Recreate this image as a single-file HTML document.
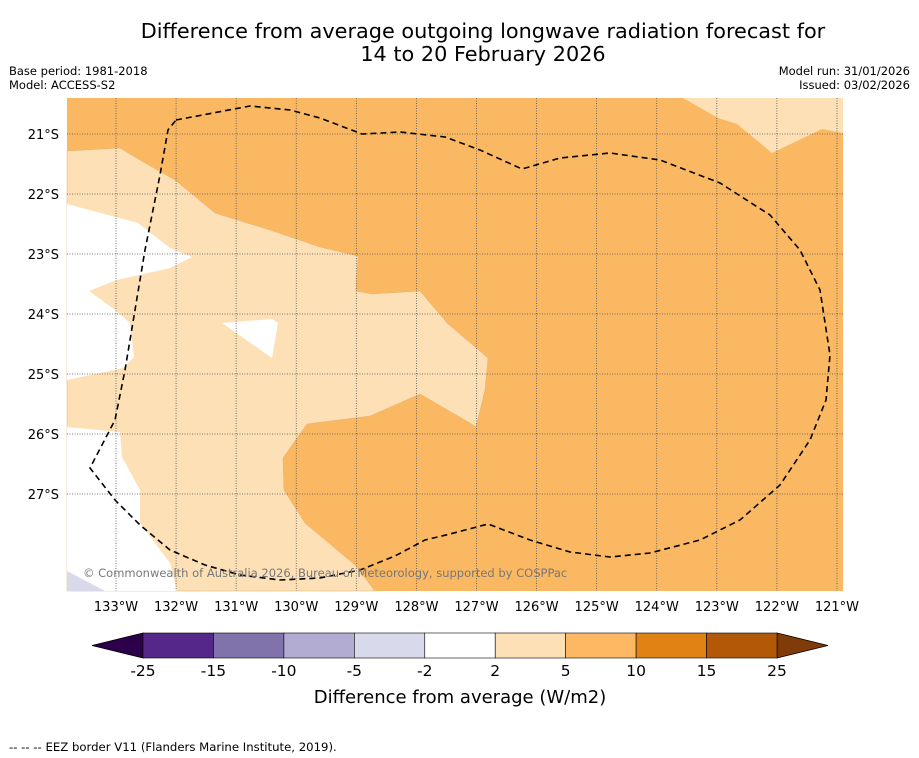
<!DOCTYPE html>
<html><head><meta charset="utf-8"><style>
body{margin:0;background:#fff;width:919px;height:758px;overflow:hidden;font-family:"Liberation Sans","DejaVu Sans",sans-serif}
svg{position:absolute;left:0;top:0}
</style></head><body>
<svg width="919" height="758" font-family="DejaVu Sans, Liberation Sans, sans-serif">
<text x="483" y="38" text-anchor="middle" font-size="20.8">Difference from average outgoing longwave radiation forecast for</text>
<text x="483" y="61" text-anchor="middle" font-size="20.8">14 to 20 February 2026</text>
<text x="9" y="75" font-size="11.5">Base period: 1981-2018</text>
<text x="9" y="89" font-size="11.5">Model: ACCESS-S2</text>
<text x="910" y="75" font-size="11.5" text-anchor="end">Model run: 31/01/2026</text>
<text x="910" y="89" font-size="11.5" text-anchor="end">Issued: 03/02/2026</text>
<g>
<rect x="67" y="98" width="776" height="493" fill="#fbb862"/>
<polygon fill="#fde0b6" stroke="#e8b070" stroke-width="0.5" points="67,151 120,148 140,160 175,180 215,213 270,230 320,247 358,256 356,291 372,294 420,291 447,323 488,358 485,390 476,427 470,423 420,394 370,416 307,424 283,458 284,490 305,523 355,565 375,591 67,591"/>
<polygon fill="#fde0b6" points="683,98 718,118 737,124 772,153 822,129 843,133 843,98"/>
<polygon fill="#fff" points="67,204 138,223 170,248 192,257 170,268 117,280 89,291 115,310 130,323 134,357 123,368 67,380"/>
<polygon fill="#fff" points="67,427 120,432 122,457 140,490 140,523 170,563 177,591 67,591"/>
<polygon fill="#fff" points="222,323 272,319 278,323 272,358"/>
<polygon fill="#d8d9ea" points="67,571 105,591 67,591"/>
<g id="grid" stroke="#555" stroke-width="0.8" stroke-dasharray="1,1.5" fill="none"></g>
<path fill="none" stroke="#000" stroke-width="1.6" stroke-dasharray="6,4" d="M176,120 L250,106 290,110 320,118 362,134 400,132 445,137 480,150 522,169 560,158 610,153 660,160 720,183 770,215 800,250 820,290 830,355 826,400 810,440 780,485 740,520 700,540 650,553 610,557 570,552 530,540 488,524 450,534 425,540 395,556 360,570 320,578 280,580 240,575 205,565 170,550 140,525 115,500 90,468 115,420 125,370 130,340 145,250 160,175 168,130 Z"/>
<text x="83" y="577" font-size="11.5" fill="#777">© Commonwealth of Australia 2026, Bureau of Meteorology, supported by COSPPac</text>
</g>
<g id="axes" font-size="13"></g>
<g id="cbar"></g>
<text x="460" y="703" text-anchor="middle" font-size="18">Difference from average (W/m2)</text>
<text x="9" y="751" font-size="11.7">--  --  -- EEZ border V11 (Flanders Marine Institute, 2019).</text>
</svg>
<script>
const lonTicks=[133,132,131,130,129,128,127,126,125,124,123,122,121];
const latTicks=[21,22,23,24,25,26,27];
const cbarLevels=["-25","-15","-10","-5","-2","2","5","10","15","25"];
const cbarColors=["#542788","#8073ac","#b2abd2","#d8daeb","#ffffff","#fee0b6","#fdb863","#e08214","#b35806"];
const ns="http://www.w3.org/2000/svg";
const xOf=lon=>116+(133-lon)*60.08;
const yOf=lat=>134+(lat-21)*60;
const grid=document.getElementById('grid'),axes=document.getElementById('axes'),cb=document.getElementById('cbar');
function mk(tag,at,parent){const e=document.createElementNS(ns,tag);for(const k in at)e.setAttribute(k,at[k]);parent.appendChild(e);return e;}
lonTicks.forEach(l=>{const x=xOf(l);
 const g=mk('line',{x1:x,x2:x,y1:98,y2:591},grid);
 
 
 const t=mk('text',{x:x,y:611,'text-anchor':'middle'},axes);t.textContent=l+'°W';
 
 
});
latTicks.forEach(l=>{const y=yOf(l);
 const g=mk('line',{x1:67,x2:843,y1:y,y2:y},grid);
 
 
 const t=mk('text',{x:59,y:y+5,'text-anchor':'end'},axes);t.textContent=l+'°S';
 
 
});
const x0=143,x1=777,w=(x1-x0)/cbarColors.length,cy=633,ch=25;
const lt=mk('polygon',{points:`92,${cy+ch/2} ${x0},${cy} ${x0},${cy+ch}`,fill:'#2d004b',stroke:'#000','stroke-width':0.8},cb);


const rt=mk('polygon',{points:`828,${cy+ch/2} ${x1},${cy} ${x1},${cy+ch}`,fill:'#7f3b08',stroke:'#000','stroke-width':0.8},cb);


cbarColors.forEach((c,i)=>{const r=mk('rect',{x:x0+i*w,y:cy,width:w,height:ch,fill:c,stroke:'#000','stroke-width':0.6},cb);
 
 });
cbarLevels.forEach((s,i)=>{const t=mk('text',{x:x0+i*w,y:676,'text-anchor':'middle','font-size':15.5},cb);t.textContent=s;
 
 });
</script>
</body></html>
